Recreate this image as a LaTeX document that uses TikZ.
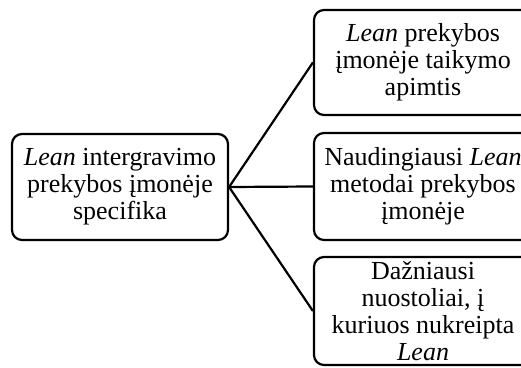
\documentclass[tikz,border=0pt]{standalone}
\usepackage{fontspec}
\setmainfont{Liberation Serif}
\begin{document}
\begin{tikzpicture}[x=1pt,y=1pt,
  box/.style={draw,line width=2.2pt,rounded corners=10pt,inner sep=0pt,align=center,
    font=\fontsize{26}{27}\selectfont},
  conn/.style={line width=2.2pt}]
\useasboundingbox (0,0) rectangle (521,367);
\begin{scope}
\clip (0,0) rectangle (521,367);
\node[box,minimum width=216pt,minimum height=106pt] (L) at (120,180) {\textit{Lean} intergravimo\\prekybos įmonėje\\specifika};
\node[box,minimum width=218pt,minimum height=105pt] (R1) at (423,304.5) {\textit{Lean} prekybos\\įmonėje taikymo\\apimtis};
\node[box,minimum width=218pt,minimum height=107pt] (R2) at (423,180.5) {Naudingiausi \textit{Lean}\\metodai prekybos\\įmonėje};
\node[box,minimum width=218pt,minimum height=108pt] (R3) at (423,56) {Dažniausi\\nuostoliai, į\\kuriuos nukreipta\\\textit{Lean}};
\draw[conn] (L.east) -- (R1.west);
\draw[conn] (L.east) -- (R2.west);
\draw[conn] (L.east) -- (R3.west);
\end{scope}
\end{tikzpicture}
\end{document}
